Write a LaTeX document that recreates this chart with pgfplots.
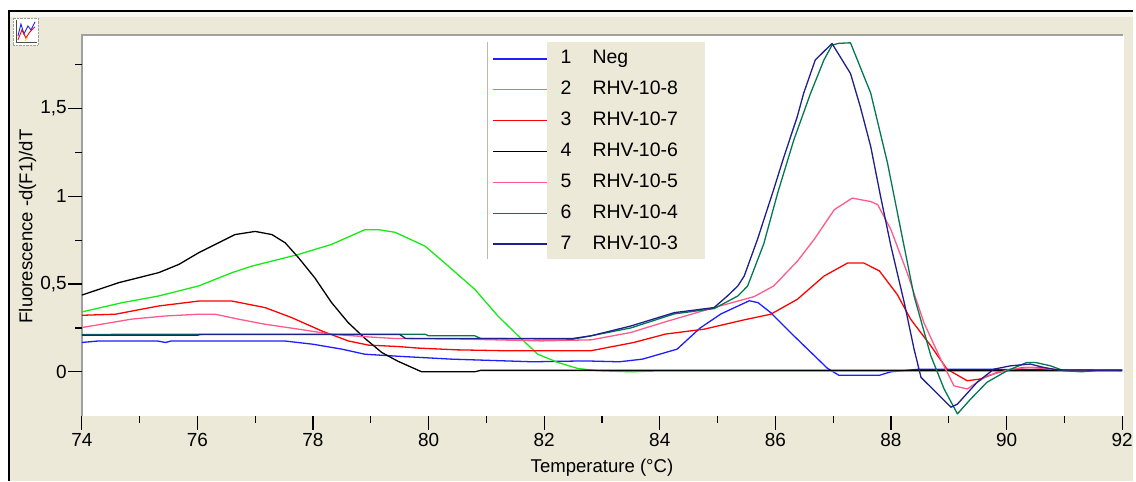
\documentclass[border=0pt]{standalone}
\usepackage{fontspec}
\setmainfont{Liberation Sans}
\usepackage{pgfplots}
\pgfplotsset{compat=1.18}

\definecolor{winbeige}{RGB}{236,233,216}
\definecolor{framegray}{RGB}{160,160,160}
\definecolor{cneg}{RGB}{30,30,255}
\definecolor{cgreen}{RGB}{20,235,20}
\definecolor{cred}{RGB}{255,0,0}
\definecolor{cpink}{RGB}{255,90,140}
\definecolor{cteal}{RGB}{0,120,80}
\definecolor{cnavy}{RGB}{30,30,140}

% melt curves, T in degC, value -d(F1)/dT
\pgfplotstableread{
T v
74 0.167
74.3 0.176
75.3 0.176
75.45 0.167
75.55 0.176
77.5 0.176
78.0 0.157
78.5 0.129
78.9 0.10
79.5 0.088
80.4 0.072
81.8 0.057
82.7 0.062
83.3 0.057
83.7 0.072
84.3 0.129
84.7 0.25
85.06 0.33
85.55 0.405
85.7 0.394
85.92 0.337
86.32 0.205
86.9 0.02
87.1 -0.02
87.8 -0.02
88.0 0.0
88.5 0.015
89.0 0.015
92 0.01
}\tabneg

\pgfplotstableread{
T v
74 0.341
74.7 0.394
75.33 0.432
76.02 0.489
76.6 0.565
76.94 0.602
77.75 0.669
78.32 0.726
78.9 0.81
79.13 0.81
79.42 0.795
79.94 0.716
80.28 0.62
80.8 0.47
81.2 0.318
81.55 0.205
81.89 0.10
82.24 0.053
82.58 0.019
82.93 0.006
83.5 0.0
84 0.005
92 0.005
}\tabeight

\pgfplotstableread{
T v
74 0.322
74.58 0.328
75.33 0.375
76.02 0.403
76.6 0.403
77.17 0.366
77.63 0.309
78.15 0.233
78.61 0.176
78.96 0.152
79.47 0.144
79.82 0.135
80.5 0.125
81.32 0.12
82.81 0.12
83.55 0.167
84.1 0.215
84.77 0.243
85.46 0.296
85.92 0.328
86.38 0.413
86.84 0.545
87.25 0.62
87.53 0.62
87.8 0.575
88.11 0.44
88.34 0.30
88.69 0.148
88.97 0.015
89.32 -0.051
89.55 -0.041
89.84 -0.004
90.3 0.025
90.59 0.025
90.87 0.011
92 0.01
}\tabseven

\pgfplotstableread{
T v
74 0.437
74.64 0.508
75.33 0.565
75.68 0.612
76.02 0.678
76.65 0.782
77.0 0.80
77.29 0.782
77.52 0.735
77.75 0.65
78.03 0.536
78.32 0.395
78.61 0.28
78.9 0.19
79.19 0.11
79.47 0.06
79.88 0.0
80.8 0.0
80.9 0.008
92 0.008
}\tabsix

\pgfplotstableread{
T v
74 0.252
74.86 0.30
75.44 0.318
76.02 0.328
76.31 0.328
76.71 0.30
77.17 0.271
77.75 0.243
78.32 0.214
78.9 0.20
79.4 0.19
80.63 0.186
81.95 0.176
82.81 0.182
83.5 0.224
84.1 0.285
84.94 0.366
85.63 0.428
85.97 0.489
86.38 0.63
86.67 0.754
87.02 0.924
87.33 0.99
87.65 0.97
87.77 0.953
88.0 0.81
88.28 0.565
88.57 0.28
88.86 0.072
89.09 -0.08
89.32 -0.098
89.66 -0.023
90.07 0.015
90.41 0.025
90.76 0.015
91 0.01
92 0.01
}\tabfive

\pgfplotstableread{
T v
74 0.213
79.94 0.214
80.0 0.205
80.8 0.205
80.9 0.19
82.5 0.186
82.81 0.205
83.5 0.25
84.25 0.33
84.94 0.36
85.35 0.432
85.52 0.489
85.8 0.73
86.04 1.019
86.32 1.322
86.61 1.588
86.84 1.777
86.98 1.862
87.1 1.872
87.3 1.875
87.65 1.588
87.94 1.19
88.17 0.81
88.4 0.432
88.69 0.091
88.92 -0.098
89.15 -0.24
89.38 -0.155
89.66 -0.06
90.01 0.006
90.35 0.053
90.5 0.053
90.76 0.034
90.99 0.006
91.3 0.0
91.6 0.008
92 0.008
}\tabfour

\pgfplotstableread{
T v
74 0.208
76.0 0.208
76.05 0.213
79.5 0.213
79.6 0.19
82.5 0.19
82.81 0.205
83.5 0.261
84.25 0.337
84.94 0.366
85.17 0.432
85.35 0.489
85.46 0.545
85.69 0.754
85.97 1.038
86.15 1.227
86.38 1.455
86.49 1.588
86.69 1.777
86.98 1.871
87.3 1.70
87.47 1.51
87.65 1.284
87.82 1.0
88.0 0.716
88.23 0.394
88.4 0.129
88.52 -0.032
89.04 -0.202
89.15 -0.184
89.49 -0.06
89.78 0.015
90.07 0.034
90.41 0.044
90.64 0.025
90.87 0.011
92 0.008
}\tabthree

\begin{document}
\begin{tikzpicture}[x=1pt,y=1pt]
% window background
\fill[white] (0,0) rectangle (1136,482);
\fill[winbeige] (9,0) rectangle (1136,471);
\fill[winbeige!35!white] (10,465) rectangle (1136,470);
\draw[black, line width=2.2pt] (9,0) -- (9,471) -- (1136,471);
% small chart icon
\fill[white] (13,437) rectangle (38,464);
\draw[framegray, densely dotted] (13,437) rectangle (38,464);
\draw[black!70] (16,440) -- (16,462) (16,440) -- (37,440);
\draw[cneg, line width=0.9pt] (18,446) -- (21,458) -- (24,448) -- (28,456) -- (31,452) -- (35,460);
\draw[cred, line width=0.9pt] (18,442) -- (22,452) -- (26,444) -- (30,450) -- (35,455);
\draw[yellow!90!black, line width=0.9pt] (25,441) -- (28,445);
% plot area
\fill[white] (82,65.3) rectangle (1127,447);
\draw[framegray, line width=1.5pt] (82,65.3) -- (82,447) -- (1126,447);
% legend panel
\fill[white] (488,222) rectangle (548,440);
\fill[winbeige] (548,222) rectangle (707,440);
\draw[winbeige!80!black, line width=1.5pt] (488.5,222) -- (488.5,440);

\begin{axis}[
  at={(82pt,65.3pt)}, anchor=south west,
  scale only axis, width=1043pt, height=381.7pt,
  xmin=74, xmax=92, ymin=-0.25, ymax=1.92,
  axis line style={draw=none},
  tick pos=left, tick align=outside,
  xtick={74,76,...,92}, minor xtick={75,77,...,91},
  ytick={0,0.5,1,1.5}, minor ytick={0.25,0.75,1.25,1.75},
  major tick length=14pt, minor tick length=7pt,
  tick style={black, line width=1.2pt},
  /pgf/number format/use comma,
  /pgf/number format/assume math mode=true,
  ticklabel style={font=\fontsize{19}{22}\selectfont},
  yticklabel style={inner xsep=1pt},
  xlabel={Temperature (°C)},
  ylabel={Fluorescence -d(F1)/dT},
  every axis x label/.style={at={(axis description cs:0.5,-0.137)}, anchor=center,
    font=\fontsize{18.6}{22}\selectfont},
  every axis y label/.style={at={(axis description cs:-0.052,0.497)}, anchor=center,
    rotate=90, font=\fontsize{18.6}{22}\selectfont},
  legend cell align=left,
  legend image code/.code={\draw[#1, line width=1.6pt] (0pt,0pt) -- (54pt,0pt); \path (67pt,0pt);},
  legend style={at={(axis description cs:0.3946,0.961)}, anchor=north west,
    draw=none, fill=none, inner sep=0pt, outer sep=0pt,
    row sep=13pt, font=\fontsize{19.5}{22}\selectfont,
    nodes={inner sep=0pt, text height=14pt, text depth=4pt}},
  every axis plot/.append style={line width=1.3pt, line join=round},
]
\addplot[color=cneg] table[x=T, y=v] {\tabneg};
\addlegendentry{\makebox[32pt][l]{1}Neg}
\addplot[color=cgreen] table[x=T, y=v] {\tabeight};
\addlegendentry{\makebox[32pt][l]{2}RHV-10-8}
\addplot[color=cred] table[x=T, y=v] {\tabseven};
\addlegendentry{\makebox[32pt][l]{3}RHV-10-7}
\addplot[color=black] table[x=T, y=v] {\tabsix};
\addlegendentry{\makebox[32pt][l]{4}RHV-10-6}
\addplot[color=cpink] table[x=T, y=v] {\tabfive};
\addlegendentry{\makebox[32pt][l]{5}RHV-10-5}
\addplot[color=cteal] table[x=T, y=v] {\tabfour};
\addlegendentry{\makebox[32pt][l]{6}RHV-10-4}
\addplot[color=cnavy] table[x=T, y=v] {\tabthree};
\addlegendentry{\makebox[32pt][l]{7}RHV-10-3}
\end{axis}
\end{tikzpicture}
\end{document}
